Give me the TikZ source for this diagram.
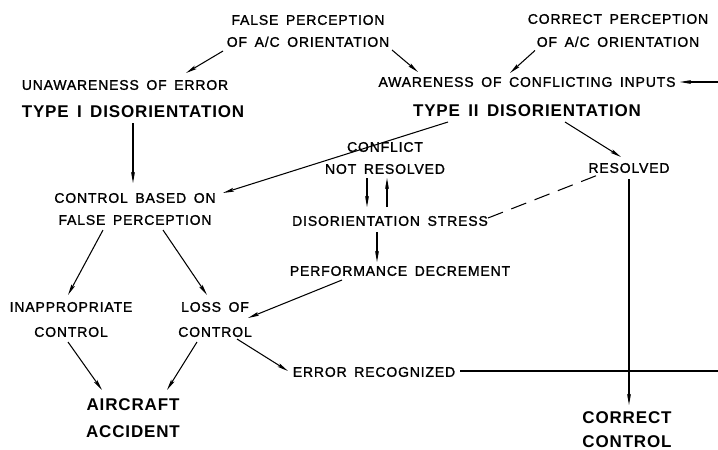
\documentclass[tikz,border=0pt]{standalone}
\usepackage{fontspec}
\usetikzlibrary{arrows.meta,calc}
\newfontfamily\lett[LetterSpace=6,WordSpace=1.6,FakeBold=1.3]{Liberation Sans}
\newfontfamily\lettb[LetterSpace=5,WordSpace=1.5]{Liberation Sans Bold}
\tikzset{
  small/.style={font=\lett\fontsize{14}{22}\selectfont, inner sep=0pt, align=center},
  big/.style={font=\lettb\fontsize{17}{27}\selectfont, inner sep=0pt, align=center},
  arr/.style={-{Stealth[length=11pt,width=3.8pt,inset=2pt]}, line width=1.05pt},
  ln/.style={line width=1.05pt}
}
\begin{document}
\begin{tikzpicture}[x=1pt,y=-1pt]
\useasboundingbox (0,0) rectangle (718,450);
% nodes
\node[small] (fp) at (308,31) {FALSE PERCEPTION\\OF A/C ORIENTATION};
\node[small,font=\lett\fontsize{14}{23}\selectfont] (cp) at (618,30.5) {CORRECT PERCEPTION\\OF A/C ORIENTATION};
\node[small] (unaw) at (125,85) {UNAWARENESS OF ERROR};
\node[big] (type1) at (133,112) {TYPE I DISORIENTATION};
\node[small] (aware) at (527,82) {AWARENESS OF CONFLICTING INPUTS};
\node[big] (type2) at (527,111) {TYPE II DISORIENTATION};
\node[small] (cbo) at (135,209) {CONTROL BASED ON\\FALSE PERCEPTION};
\node[small] (conf) at (385,158) {CONFLICT\\NOT RESOLVED};
\node[small] (stress) at (390,221) {DISORIENTATION STRESS};
\node[small] (perf) at (400,271) {PERFORMANCE DECREMENT};
\node[small] (resolved) at (629,168) {RESOLVED};
\node[small,font=\lett\fontsize{14}{25}\selectfont] (inapp) at (71,319.5) {INAPPROPRIATE\\CONTROL};
\node[small,font=\lett\fontsize{14}{25}\selectfont] (loss) at (215,319.5) {LOSS OF\\CONTROL};
\node[small] (err) at (374,372) {ERROR RECOGNIZED};
\node[big] (acc) at (133,418.5) {AIRCRAFT\\ACCIDENT};
\node[big,font=\lettb\fontsize{17}{24}\selectfont] (cc) at (627,430) {CORRECT\\CONTROL};
\coordinate (rin) at (718,82);
\coordinate (rerr) at (718,371);
% connectors
\draw[arr] ($(fp)+(-85,20)$) -- ($(unaw)+(61,-12)$);
\draw[arr] ($(fp)+(84,19)$) -- ($(aware)+(-109,-10)$);
\draw[arr] ($(cp)+(-83,20)$) -- ($(aware)+(-17,-9)$);
\draw[arr] (rin) -- ($(aware)+(153,0)$);
\draw[arr] ($(type1)+(0,11)$) -- ($(cbo)+(-2,-26)$);
\draw[arr] ($(type2)+(-79,11)$) -- ($(cbo)+(88,-16)$);
\draw[arr] ($(type2)+(38,11)$) -- ($(resolved)+(-8,-11)$);
\draw[arr] ($(conf)+(-18,20)$) -- ($(stress)+(-23,-14)$);
\draw[arr] ($(stress)+(-3,-14)$) -- ($(conf)+(2,20)$);
\draw[arr] ($(stress)+(-13,11)$) -- ($(perf)+(-23,-9)$);
\draw[ln,dash pattern=on 16pt off 9pt] ($(stress)+(98,-3)$) -- ($(resolved)+(-31,7)$);
\draw[arr] ($(cbo)+(-32,21)$) -- ($(inapp)+(-3,-24.5)$);
\draw[arr] ($(cbo)+(28,21)$) -- ($(loss)+(-8,-24.5)$);
\draw[arr] ($(perf)+(-58,9)$) -- ($(loss)+(33,-1.5)$);
\draw[arr] ($(inapp)+(-3,22.5)$) -- ($(acc)+(-31,-28.5)$);
\draw[arr] ($(loss)+(-18,22.5)$) -- ($(acc)+(34,-28.5)$);
\draw[arr] ($(loss)+(22,19.5)$) -- ($(err)+(-86,-1)$);
\draw[ln] ($(err)+(86,-1)$) -- (rerr);
\draw[arr] ($(resolved)+(0,11)$) -- ($(cc)+(2,-25)$);
\end{tikzpicture}
\end{document}
